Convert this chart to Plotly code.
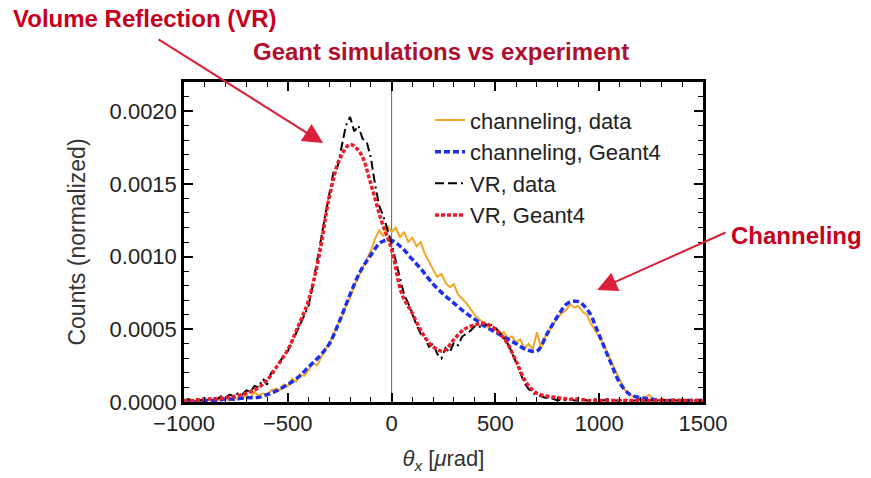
import plotly.graph_objects as go

# ---- simulated distributions (Geant4), 50 µrad grid ----
sim_theta = list(range(-1000, 1501, 50))
vr_geant4 = [
    0.00001, 0.00001, 0.00002, 0.00002, 0.00003, 0.00004, 0.00006, 0.00009, 0.00015, 0.00025,
    0.00036, 0.00052, 0.00070, 0.00100, 0.00141, 0.00167, 0.00177, 0.00171, 0.00150, 0.00125,
    0.00105, 0.00074, 0.00061, 0.00047, 0.00038, 0.00035, 0.00043, 0.00050, 0.00053, 0.00054,
    0.00050, 0.00042, 0.00028, 0.00013, 0.00006, 0.00004, 0.00003, 0.00002, 0.00002, 0.00001,
    0.00001, 0.00001, 0.00001, 0.00001, 0.00001, 0.00001, 0.00001, 0.00001, 0.00001, 0.00001,
    0.00001,
]
ch_geant4 = [
    0.00000, 0.00000, 0.00001, 0.00001, 0.00002, 0.00002, 0.00003, 0.00003, 0.00005, 0.00008,
    0.00012, 0.00017, 0.00024, 0.00031, 0.00040, 0.00056, 0.00074, 0.00090, 0.00101, 0.00110,
    0.00111, 0.00106, 0.00098, 0.00090, 0.00081, 0.00074, 0.00068, 0.00062, 0.00057, 0.00052,
    0.00048, 0.00044, 0.00040, 0.00036, 0.00035, 0.00047, 0.00059, 0.00068, 0.00069, 0.00062,
    0.00046, 0.00029, 0.00013, 0.00005, 0.00003, 0.00002, 0.00001, 0.00001, 0.00001, 0.00001,
    0.00001,
]

# ---- measured distributions, 20 µrad bins ----
data_theta = list(range(-1000, 1501, 20))
ch_data = [
    0.00001, 0.00000, 0.00001, 0.00001, 0.00000, 0.00001, 0.00002, 0.00001, 0.00001, 0.00002,
    0.00002, 0.00001, 0.00003, 0.00002, 0.00003, 0.00004, 0.00003, 0.00007, 0.00004, 0.00006,
    0.00005, 0.00008, 0.00009, 0.00008, 0.00012, 0.00011, 0.00016, 0.00014, 0.00019, 0.00018,
    0.00022, 0.00027, 0.00025, 0.00031, 0.00036, 0.00040, 0.00047, 0.00053, 0.00058, 0.00066,
    0.00072, 0.00080, 0.00086, 0.00092, 0.00099, 0.00104, 0.00112, 0.00118, 0.00114, 0.00121,
    0.00117, 0.00120, 0.00113, 0.00117, 0.00110, 0.00113, 0.00107, 0.00110, 0.00102, 0.00096,
    0.00091, 0.00086, 0.00088, 0.00082, 0.00079, 0.00081, 0.00074, 0.00071, 0.00068, 0.00064,
    0.00060, 0.00057, 0.00055, 0.00052, 0.00049, 0.00050, 0.00046, 0.00048, 0.00044, 0.00045,
    0.00041, 0.00043, 0.00037, 0.00040, 0.00036, 0.00048, 0.00037, 0.00045, 0.00050, 0.00054,
    0.00058, 0.00061, 0.00063, 0.00067, 0.00065, 0.00066, 0.00062, 0.00060, 0.00054, 0.00049,
    0.00045, 0.00040, 0.00033, 0.00027, 0.00020, 0.00014, 0.00009, 0.00006, 0.00004, 0.00003,
    0.00002, 0.00003, 0.00005, 0.00002, 0.00001, 0.00002, 0.00001, 0.00001, 0.00002, 0.00001,
    0.00001, 0.00000, 0.00001, 0.00001, 0.00000, 0.00001,
]
vr_data = [
    0.00001, 0.00002, 0.00001, 0.00002, 0.00001, 0.00003, 0.00002, 0.00003, 0.00002, 0.00004,
    0.00003, 0.00005, 0.00004, 0.00006, 0.00005, 0.00008, 0.00007, 0.00011, 0.00010, 0.00016,
    0.00012, 0.00020, 0.00023, 0.00027, 0.00032, 0.00035, 0.00041, 0.00047, 0.00054, 0.00059,
    0.00066, 0.00080, 0.00095, 0.00112, 0.00128, 0.00143, 0.00158, 0.00162, 0.00176, 0.00190,
    0.00196, 0.00186, 0.00190, 0.00181, 0.00179, 0.00168, 0.00150, 0.00135, 0.00128, 0.00118,
    0.00109, 0.00097, 0.00086, 0.00074, 0.00068, 0.00060, 0.00053, 0.00047, 0.00044, 0.00038,
    0.00040, 0.00033, 0.00030, 0.00037, 0.00034, 0.00041, 0.00039, 0.00045, 0.00047, 0.00049,
    0.00052, 0.00051, 0.00054, 0.00053, 0.00053, 0.00051, 0.00048, 0.00044, 0.00040, 0.00034,
    0.00027, 0.00019, 0.00013, 0.00009, 0.00006, 0.00005, 0.00004, 0.00003, 0.00003, 0.00002,
    0.00001, 0.00002, 0.00001, 0.00002, 0.00001, 0.00001, 0.00002, 0.00001, 0.00001, 0.00002,
    0.00001, 0.00001, 0.00002, 0.00001, 0.00001, 0.00001, 0.00002, 0.00001, 0.00001, 0.00001,
    0.00002, 0.00001, 0.00001, 0.00001, 0.00001, 0.00002, 0.00001, 0.00001, 0.00001, 0.00001,
    0.00001, 0.00001, 0.00001, 0.00001, 0.00001, 0.00001,
]

Y_RANGE = [0, 0.0022]

FONT = "Liberation Sans, Arial, sans-serif"
ORANGE = "#f5a623"
BLUE = "#1f2ff0"
RED = "#ec1c2c"
ARROW_RED = "#dc1f3a"

fig = go.Figure()
# vertical reference line at theta = 0, drawn first so the curves sit on top
fig.add_trace(go.Scatter(x=[0, 0], y=Y_RANGE, mode="lines", showlegend=False, hoverinfo="skip",
                         line=dict(color="#666666", width=1)))
fig.add_trace(go.Scatter(x=data_theta, y=ch_data, mode="lines", name="channeling, data",
                         line=dict(color=ORANGE, width=2)))
fig.add_trace(go.Scatter(x=sim_theta, y=ch_geant4, mode="lines", name="channeling, Geant4",
                         line=dict(color=BLUE, width=3.5, dash="6px,3px", shape="spline")))
fig.add_trace(go.Scatter(x=data_theta, y=vr_data, mode="lines", name="VR, data",
                         line=dict(color="black", width=2,
                                   dash="9px,4px,9px,4px,2px,4px")))
fig.add_trace(go.Scatter(x=sim_theta, y=vr_geant4, mode="lines", name="VR, Geant4",
                         line=dict(color=RED, width=3.5, dash="4px,2px", shape="spline")))

frame = dict(
    showline=True, linecolor="black", linewidth=2.5, mirror="allticks",
    ticks="inside", ticklen=9, tickwidth=1.6, tickcolor="black",
    showgrid=False, zeroline=False, automargin=False,
    tickfont=dict(family=FONT, size=22, color="#222222"),
)
fig.update_xaxes(
    range=[-1000, 1500], dtick=500,
    minor=dict(dtick=100, ticks="inside", ticklen=5, tickcolor="black", tickwidth=1.4),
    title=dict(text="<i>θ</i><sub><i>x</i></sub> [<i>μ</i>rad]",
               font=dict(family=FONT, size=22, color="#333333"), standoff=16),
    **frame,
)
fig.update_yaxes(
    range=Y_RANGE, dtick=0.0005, tickformat=".4f",
    minor=dict(dtick=0.0001, ticks="inside", ticklen=5, tickcolor="black", tickwidth=1.4),
    title=dict(text="Counts (normalized)",
               font=dict(family=FONT, size=23, color="#333333"), standoff=18),
    **frame,
)

fig.add_annotation(xref="paper", yref="paper", x=-0.334, y=1.2, xanchor="left", yanchor="middle",
                   text="<b>Volume Reflection (VR)</b>", showarrow=False,
                   font=dict(family=FONT, size=24, color="#c8001e"))
fig.add_annotation(xref="paper", yref="paper", x=0.13, y=1.094, xanchor="left", yanchor="middle",
                   text="<b>Geant simulations vs experiment</b>", showarrow=False,
                   font=dict(family=FONT, size=24, color="#b0102e"))
fig.add_annotation(xref="paper", yref="paper", x=1.05, y=0.52, xanchor="left", yanchor="middle",
                   text="<b>Channeling</b>", showarrow=False,
                   font=dict(family=FONT, size=24, color="#c8001e"))

# pointer arrows (head and tail both in data coordinates)
fig.add_annotation(xref="x", yref="y", x=-330, y=0.00178, axref="x", ayref="y",
                   ax=-1130, ay=0.00250, text="", showarrow=True, arrowhead=2, arrowsize=2,
                   arrowwidth=2, arrowcolor=ARROW_RED)
fig.add_annotation(xref="x", yref="y", x=990, y=0.00077, axref="x", ayref="y",
                   ax=1616, ay=0.00117, text="", showarrow=True, arrowhead=2, arrowsize=2,
                   arrowwidth=2, arrowcolor=ARROW_RED)

fig.update_layout(
    width=871, height=478,
    margin=dict(l=184, r=168, t=82, b=76, autoexpand=False),
    paper_bgcolor="white", plot_bgcolor="rgba(0,0,0,0)",
    showlegend=True,
    legend=dict(x=0.474, y=0.946, xanchor="left", yanchor="top",
                bgcolor="rgba(0,0,0,0)", borderwidth=0,
                font=dict(family=FONT, size=22, color="#222222")),
)

fig.write_html("out.html")
